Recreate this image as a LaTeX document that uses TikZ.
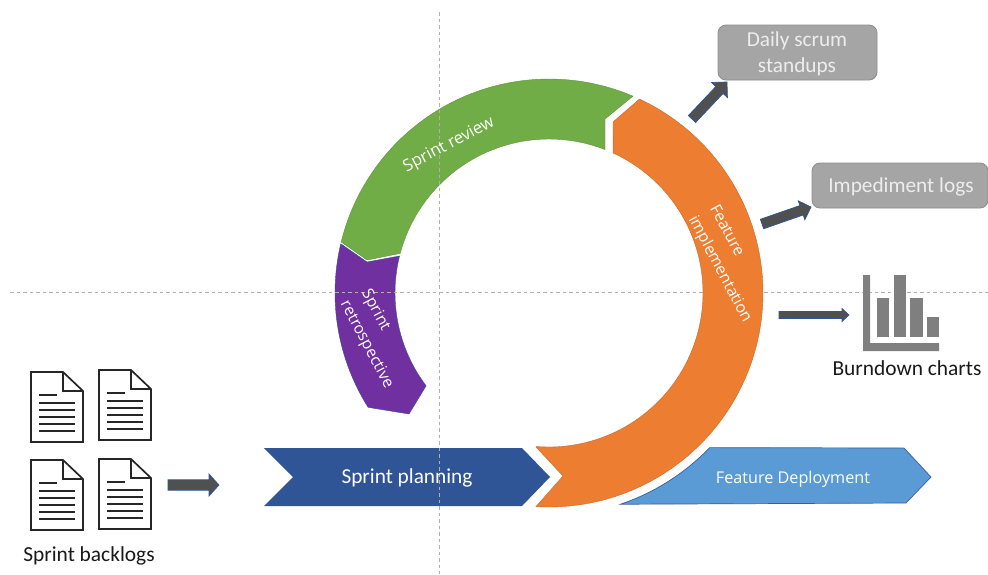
\documentclass[tikz,border=0pt]{standalone}
\usepackage{fontspec}
\setmainfont{Carlito}
\newfontfamily\seg{Open Sans}
\usetikzlibrary{calc}
\definecolor{cgreen}{HTML}{70AD47}
\definecolor{corange}{HTML}{ED7D31}
\definecolor{cpurple}{HTML}{7030A0}
\definecolor{cnavy}{HTML}{2F5597}
\definecolor{cblue}{HTML}{5B9BD5}
\definecolor{cgrey}{HTML}{A5A5A5}
\definecolor{cdark}{HTML}{505050}
\definecolor{cicon}{HTML}{7F7F7F}
\definecolor{cdash}{HTML}{B0B0B0}
\tikzset{
  guide/.style={draw=cdash,line width=0.8pt,dash pattern=on 3.5pt off 3pt},
  greybox/.style={draw=cicon!90,fill=cgrey,line width=0.8pt,rounded corners=8pt},
  blockarrow/.style={fill=cdark,draw=cnavy,line width=0.7pt,line join=miter},
  docline/.style={draw=black!85,line width=1.3pt},
  ink/.style={text=black!90,font=\fontsize{21.4}{25}\selectfont},
  boxlabel/.style={text=white!93!black,font=\fontsize{21.3}{26}\selectfont,align=center},
  ringlabel/.style={text=white,font=\seg\fontsize{15.8}{24}\selectfont,align=left,inner sep=0pt},
  bandlabel/.style={text=white,inner sep=0pt},
}
% #1 tail, #2 tip, #3 half shaft, #4 half head, #5 head length
\newcommand\blockarr[6]{%
  \coordinate (#1h) at ($(#2)!#6pt!(#1)$);
  \draw[blockarrow] ($(#1)!#3pt!90:(#2)$) -- ($(#1h)!#3pt!-90:(#1)$) -- ($(#1h)!#4pt!-90:(#1)$) -- (#2)
     -- ($(#1h)!#4pt!90:(#1)$) -- ($(#1h)!#3pt!90:(#1)$) -- ($(#1)!#3pt!-90:(#2)$) -- cycle;
}
% document icon at left x, top y
\newcommand\docicon[2]{%
  \begin{scope}[shift={(#1,#2)}]
    \draw[docline,line join=miter,line width=1.7pt,fill=white] (0,0) -- (32,0) -- (52,19) -- (52,70) -- (0,70) -- cycle;
    \draw[docline,line width=1.7pt] (32,0) -- (32,19) -- (52,19);
    \draw[docline] (8,23) -- (26,23);
    \foreach \ly in {31,38,45,52,59} \draw[docline] (8,\ly) -- (44,\ly);
  \end{scope}
}
\begin{document}
\begin{tikzpicture}[x=1pt,y=-1pt]
\useasboundingbox[fill=white] (0,0) rectangle (988,574);

% green segment
\fill[cgreen,draw=cgreen!85!black,line width=0.4pt]
  plot[domain=193.8:293.1,samples=50] ({549+214*cos(\x)},{293+214*sin(\x)})
  -- (605,119) -- (605,149)
  -- plot[domain=291.3:194.9,samples=50] ({549+154*cos(\x)},{293+154*sin(\x)})
  -- (367,260) -- cycle;
% purple segment
\fill[cpurple,draw=cnavy,line width=0.4pt]
  plot[domain=193.3:147.7,samples=30] ({549+214*cos(\x)},{293+214*sin(\x)})
  -- (409,414) -- (426,386)
  -- plot[domain=142.9:193.9,samples=30] ({549+154*cos(\x)},{293+154*sin(\x)})
  -- (367,262) -- cycle;
% sprint planning band
\fill[cnavy] (264,448) -- (522,448) -- (550,477) -- (522,506) -- (264,506) -- (293,477) -- cycle;

% guides
\coordinate (vtop) at (439,12);
\coordinate (vbot) at (439,574);
\coordinate (hleft) at (10,292);
\coordinate (hright) at (988,292);
\draw[guide] (vtop) -- (vbot);
\draw[guide] (hleft) -- (hright);

% orange segment
\fill[corange,draw=corange!85!black,line width=0.4pt]
  plot[domain=-65:93.5,samples=80] ({549+214*cos(\x)},{293+214*sin(\x)})
  -- (563,476) -- (536,447)
  -- plot[domain=94.8:-65.4,samples=80] ({549+154*cos(\x)},{293+154*sin(\x)})
  -- (613,122) -- cycle;
% feature deployment band
\fill[cblue,draw=cnavy!85!cblue,line width=0.7pt]
  plot[domain=71.3:43.9,samples=20] ({549+223*cos(\x)},{293+223*sin(\x)})
  -- (904,448) -- (931,477) -- (906,503) -- cycle;

% boxes
\draw[greybox] (718,25) rectangle (877,80);
\node[boxlabel] (daily) at (797,54) {Daily scrum\\standups};
\draw[greybox] (812,163) rectangle (988,208);
\node[boxlabel] (imped) at (901,187) {Impediment logs};

% arrows
\coordinate (a1) at (692,119); \coordinate (b1) at (727,82);
\blockarr{a1}{b1}{5}{11}{11}{11}
\coordinate (a2) at (762,224); \coordinate (b2) at (811,207);
\blockarr{a2}{b2}{5}{10}{10}{10}
\coordinate (a3) at (779,315); \coordinate (b3) at (849,315);
\blockarr{a3}{b3}{3.5}{6.5}{7}{7}
\coordinate (a4) at (168,485); \coordinate (b4) at (219,485);
\blockarr{a4}{b4}{5.2}{11}{10}{10}

% burndown icon
\fill[cicon] (863,275) -- (870,275) -- (870,343) -- (939,343) -- (939,351) -- (863,351) -- cycle;
\fill[cicon] (877,298) rectangle (889,337);
\fill[cicon] (894,275) rectangle (906,337);
\fill[cicon] (910,298) rectangle (923,337);
\fill[cicon] (927,317) rectangle (939,337);
\node[ink] (burn) at (907,368) {Burndown charts};

% documents
\docicon{31}{372}
\docicon{99}{370}
\docicon{31}{460}
\docicon{99}{459}
\node[ink] (backlog) at (89,555.5) {Sprint backlogs};

% labels on shapes
\node[bandlabel,font=\fontsize{21.3}{25}\selectfont] (plan) at (407,477.5) {Sprint planning};
\node[bandlabel,font=\seg\fontsize{16.2}{20}\selectfont] (deploy) at (793,479.5) {Feature Deployment};
\node[ringlabel,font=\seg\fontsize{16.6}{24}\selectfont,rotate=28] (review) at (449,145) {Sprint review};
\node[ringlabel,rotate=-62] (retro) at (377,339) {Sprint\\retrospective};
\node[ringlabel,rotate=-62] (impl) at (730,264) {Feature\\implementation};
\end{tikzpicture}
\end{document}
